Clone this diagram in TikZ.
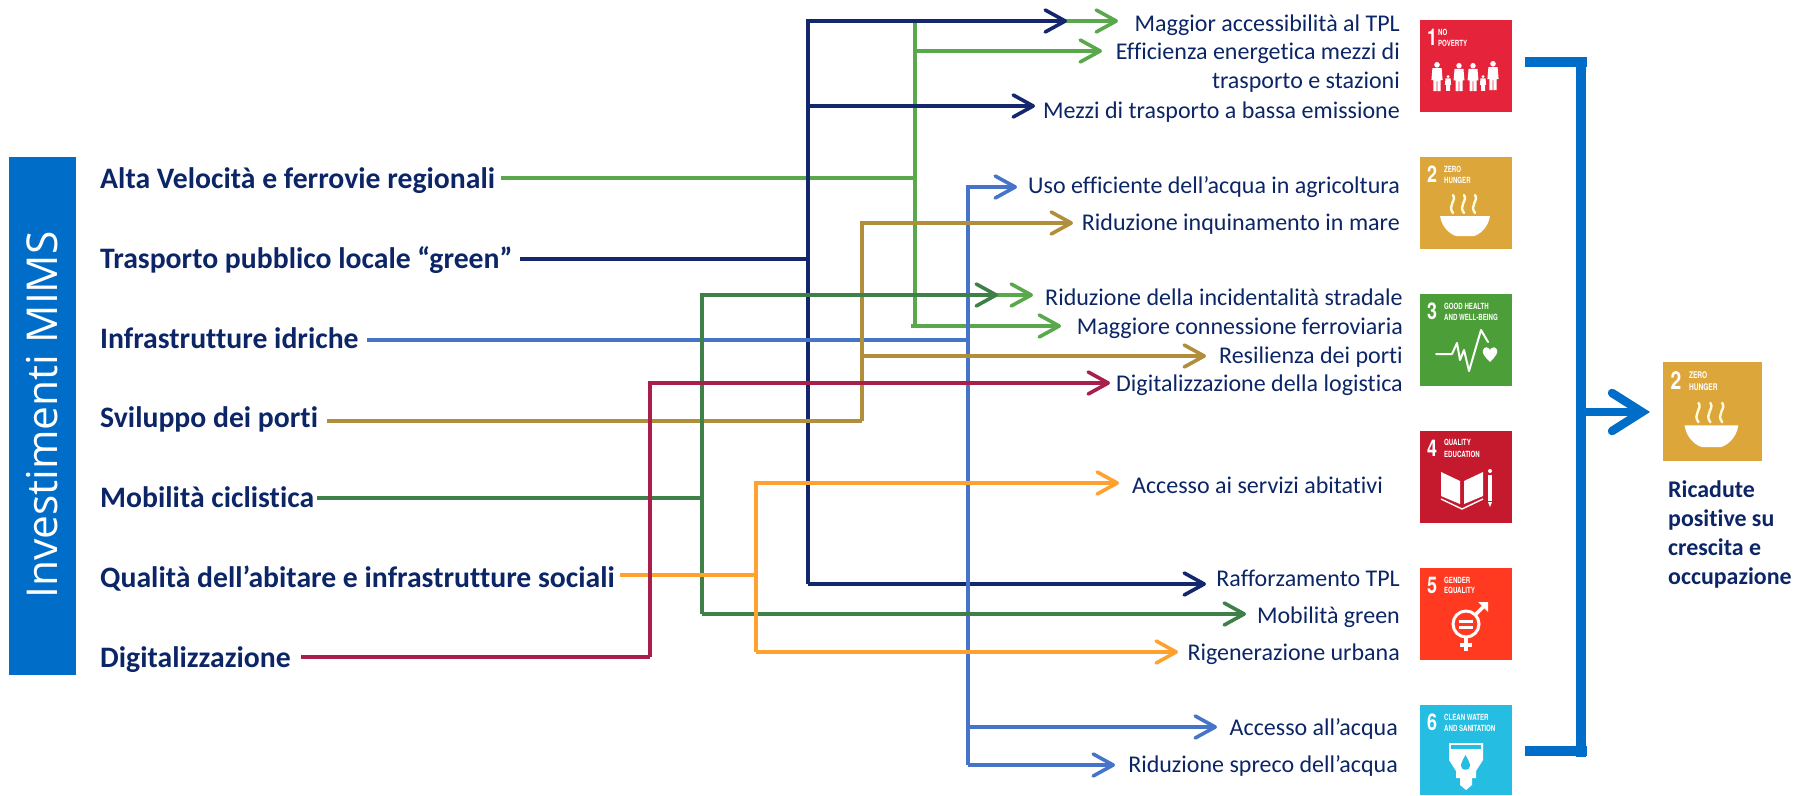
\documentclass[tikz,border=0pt]{standalone}
\usepackage{fontspec}
\setmainfont{Carlito}[Ligatures=CommonOff]
\newfontfamily\barfont{Open Sans}
\newfontfamily\sdgfont{TeX Gyre Heros}
\usetikzlibrary{arrows.meta}
\definecolor{txtnavy}{HTML}{0B2566}
\definecolor{cbar}{HTML}{006EC9}
\definecolor{cgreen}{HTML}{5AA84C}
\definecolor{cnavy}{HTML}{14266C}
\definecolor{cblue}{HTML}{4674C8}
\definecolor{cbrown}{HTML}{B08E3C}
\definecolor{cdgreen}{HTML}{3F7F48}
\definecolor{corange}{HTML}{FFA12E}
\definecolor{cred}{HTML}{A81F4C}
\definecolor{sdgone}{HTML}{E5243B}
\definecolor{sdgtwo}{HTML}{DDA63A}
\definecolor{sdgthree}{HTML}{4C9F38}
\definecolor{sdgfour}{HTML}{C5192D}
\definecolor{sdgfive}{HTML}{FF3A21}
\definecolor{sdgsix}{HTML}{26BDE2}
\tikzset{
  lefttxt/.style={anchor=base west,inner sep=0pt,font=\fontsize{29.7}{32}\selectfont\bfseries,text=txtnavy},
  righttxt/.style={anchor=base east,inner sep=0pt,font=\fontsize{24}{29}\selectfont,text=txtnavy,align=right},
  conn/.style={line width=3.6pt,line join=miter},
  arr/.style={conn,-{Straight Barb[length=20pt,width=22pt,line cap=round,line join=round]}},
  tile/.style={anchor=north west,minimum width=#1,minimum height=#1,inner sep=0pt,outer sep=0pt},
  num/.style={anchor=west,inner sep=0pt,text=white,xscale=.78,font=\sdgfont\fontsize{23}{23}\selectfont\bfseries},
  hd/.style={anchor=west,inner sep=0pt,text=white,xscale=.72,font=\sdgfont\fontsize{8.5}{8.5}\selectfont\bfseries},
  ico/.style={draw=white,line width=2pt,line cap=round,line join=round},
  bigline/.style={draw=cbar,line width=9.5pt}
}
\newcommand{\sdghead}[4]{%
  \node[num] at (7,17) {#1};
  \node[hd] at (#4,12) {#2};
  \node[hd] at (#4,23) {#3};
}
\newcommand{\bowlicon}{%
  \fill[white] (20,59) -- (70,59) .. controls (68,72) and (58,78) .. (54,79) -- (36,79) .. controls (32,78) and (22,72) .. (20,59) -- cycle;
  \foreach \q in {33,44,55}{\draw[draw=white!85!yellow,line width=2.4pt,line cap=round] (\q,56) .. controls (\q-6,48) and (\q+4,44) .. (\q,38);}
}
\newcommand{\persona}[3]{% x, top, scale
  \fill[white] (#1,#2+2.8*#3) circle (2.8*#3);
  \fill[white] (#1-4.6*#3,#2+6*#3) -- (#1+4.6*#3,#2+6*#3) -- (#1+5.6*#3,#2+18*#3) -- (#1+3.6*#3,#2+18*#3) -- (#1+3.6*#3,#2+29*#3) -- (#1+.4*#3,#2+29*#3) -- (#1+.4*#3,#2+19*#3) -- (#1-.4*#3,#2+19*#3) -- (#1-.4*#3,#2+29*#3) -- (#1-3.6*#3,#2+29*#3) -- (#1-3.6*#3,#2+18*#3) -- (#1-5.6*#3,#2+18*#3) -- cycle;
}
\begin{document}
\begin{tikzpicture}[x=1pt,y=-1pt]
\useasboundingbox (0,0) rectangle (1803,795);
% left bar
\node[anchor=north west,fill=cbar,minimum width=67pt,minimum height=518pt,inner sep=0pt] (bar) at (9,157) {};
\node[rotate=90,text=white,inner sep=0pt,font=\barfont\fontsize{42.5}{44}\selectfont] (bartxt) at (42,415) {Investimenti MIMS};
% left labels
\node[lefttxt] (alta) at (100,188.5) {Alta Velocità e ferrovie regionali};
\node[lefttxt] (tpl) at (100,268.5) {Trasporto pubblico locale “green”};
\node[lefttxt] (idr) at (100,348) {Infrastrutture idriche};
\node[lefttxt] (porti) at (100,427.5) {Sviluppo dei porti};
\node[lefttxt] (cicl) at (100,507.5) {Mobilità ciclistica};
\node[lefttxt] (abit) at (100,587) {Qualità dell’abitare e infrastrutture sociali};
\node[lefttxt] (digi) at (100,667) {Digitalizzazione};
% right labels
\node[righttxt] (r1) at (1400,31.5) {Maggior accessibilità al TPL};
\node[righttxt,anchor=north east] (r2) at (1400,43) {Efficienza energetica mezzi di\\trasporto e stazioni};
\node[righttxt] (r3) at (1400,118.5) {Mezzi di trasporto a bassa emissione};
\node[righttxt] (r4) at (1400,193.5) {Uso efficiente dell’acqua in agricoltura};
\node[righttxt] (r5) at (1400,230.5) {Riduzione inquinamento in mare};
\node[righttxt] (r6) at (1403,305.5) {Riduzione della incidentalità stradale};
\node[righttxt] (r7) at (1403,334.5) {Maggiore connessione ferroviaria};
\node[righttxt] (r8) at (1403,363) {Resilienza dei porti};
\node[righttxt] (r9) at (1403,391.5) {Digitalizzazione della logistica};
\node[righttxt] (r10) at (1383,493) {Accesso ai servizi abitativi};
\node[righttxt] (r11) at (1400,586.5) {Rafforzamento TPL};
\node[righttxt] (r12) at (1400,623) {Mobilità green};
\node[righttxt] (r13) at (1400,660.5) {Rigenerazione urbana};
\node[righttxt] (r14) at (1398,735) {Accesso all’acqua};
\node[righttxt] (r15) at (1398,772.5) {Riduzione spreco dell’acqua};
% coordinates of the connector ends
\coordinate (ga) at (501,178);   \coordinate (gj) at (915,178);
\coordinate (gt) at (915,21);    \coordinate (gb) at (915,326);
\coordinate (g1) at (1118,21);   \coordinate (g2) at (1102,51);
\coordinate (g3) at (915,295);   \coordinate (g4) at (1033,295);
\coordinate (g5) at (1061,326);  \coordinate (g0) at (911,326);
\coordinate (na) at (520,259);   \coordinate (nj) at (808,259);
\coordinate (nt) at (808,21);    \coordinate (nb) at (808,584);
\coordinate (n1) at (1067,21);   \coordinate (n2) at (1035,106);
\coordinate (n3) at (1206,584);  \coordinate (n0) at (808,106);
\coordinate (ba) at (367,340);   \coordinate (bj) at (968,340);
\coordinate (bt) at (968,187);   \coordinate (bb) at (968,765);
\coordinate (b1) at (1017,187);  \coordinate (b2) at (1217,727);
\coordinate (b3) at (1115,765);  \coordinate (b0) at (968,727);
\coordinate (oa) at (327,421);   \coordinate (oj) at (862,421);
\coordinate (ot) at (862,223);   \coordinate (om) at (862,356);
\coordinate (o1) at (1073,223);  \coordinate (o2) at (1206,356);
\coordinate (da) at (317,498);   \coordinate (dj) at (702,498);
\coordinate (dt) at (702,295);   \coordinate (db) at (702,614);
\coordinate (d1) at (998,295);   \coordinate (d2) at (1246,614);
\coordinate (ya) at (620,575);   \coordinate (yj) at (756,575);
\coordinate (yt) at (756,483);   \coordinate (yb) at (756,652);
\coordinate (y1) at (1119,483);  \coordinate (y2) at (1178,652);
\coordinate (ra) at (301,657);   \coordinate (rj) at (650,657);
\coordinate (rt) at (650,383);   \coordinate (r1e) at (1110,383);
% connectors, in stacking order
\draw[conn,draw=cgreen] (ga) -- (gj);
\draw[arr,draw=cgreen] (gb) -- (gt) -- (g1);
\draw[arr,draw=cgreen] (gj |- g2) -- (g2);
\draw[arr,draw=cgreen] (g3) -- (g4);
\draw[arr,draw=cgreen] (g0) -- (g5);
\draw[conn,draw=cnavy] (na) -- (nj);
\draw[arr,draw=cnavy] (nb) -- (nt) -- (n1);
\draw[arr,draw=cnavy] (n0) -- (n2);
\draw[arr,draw=cnavy] (nb) -- (n3);
\draw[conn,draw=cblue] (ba) -- (bj);
\draw[arr,draw=cblue] (bb) -- (bt) -- (b1);
\draw[arr,draw=cblue] (b0) -- (b2);
\draw[arr,draw=cblue] (bj |- b3) -- (b3);
\draw[conn,draw=cbrown] (oa) -- (oj);
\draw[arr,draw=cbrown] (oj) -- (ot) -- (o1);
\draw[arr,draw=cbrown] (om) -- (o2);
\draw[conn,draw=cdgreen] (da) -- (dj);
\draw[arr,draw=cdgreen] (db) -- (dt) -- (d1);
\draw[arr,draw=cdgreen] (db) -- (d2);
\draw[conn,draw=corange] (ya) -- (yj);
\draw[arr,draw=corange] (yb) -- (yt) -- (y1);
\draw[arr,draw=corange] (yb) -- (y2);
\draw[conn,draw=cred] (ra) -- (rj);
\draw[arr,draw=cred] (rj) -- (rt) -- (r1e);
% tiles
\node[tile=92pt,fill=sdgone] (t1) at (1420,20) {};
\begin{scope}[shift={(t1.north west)}]
  \sdghead{1}{NO}{POVERTY}{18}
  \persona{17}{42}{1}\persona{28}{55}{.55}\persona{39}{43}{.97}\persona{53}{43}{.97}\persona{63}{55}{.55}\persona{73}{41}{1}
\end{scope}
\node[tile=92pt,fill=sdgtwo] (t2) at (1420,157) {};
\begin{scope}[shift={(t2.north west)}]
  \sdghead{2}{ZERO}{HUNGER}{24}
  \bowlicon
\end{scope}
\node[tile=92pt,fill=sdgthree] (t3) at (1420,294) {};
\begin{scope}[shift={(t3.north west)}]
  \sdghead{3}{GOOD HEALTH}{AND WELL-BEING}{24}
  \draw[ico] (16,60) -- (32,60) -- (37,49) -- (40,66) -- (44,56) -- (49,77) -- (61,36) -- (68,48);
  \fill[white] (70,68) .. controls (64,62) and (62,59) .. (63,56) .. controls (64,52) and (69,53) .. (70,56) .. controls (71,53) and (76,52) .. (77,56) .. controls (78,59) and (76,62) .. (70,68) -- cycle;
\end{scope}
\node[tile=92pt,fill=sdgfour] (t4) at (1420,431) {};
\begin{scope}[shift={(t4.north west)}]
  \sdghead{4}{QUALITY}{EDUCATION}{24}
  \fill[white] (21,41) -- (40,50) -- (40,73) -- (21,65) -- cycle;
  \fill[white] (44,50) -- (63,41) -- (63,65) -- (44,73) -- cycle;
  \draw[white,line width=1.4pt] (21,68) -- (42,78) -- (63,68);
  \draw[white,line width=3.5pt] (70,44) -- (70,70);
  \fill[white] (68,71) -- (72,71) -- (70,76) -- cycle;
  \fill[white] (70,40) circle (2);
\end{scope}
\node[tile=92pt,fill=sdgfive] (t5) at (1420,568) {};
\begin{scope}[shift={(t5.north west)}]
  \sdghead{5}{GENDER}{EQUALITY}{24}
  \draw[white,line width=3pt] (46,56) circle (13);
  \draw[white,line width=3pt] (39,53) -- (53,53) (39,59) -- (53,59);
  \draw[white,line width=3.5pt] (46,69) -- (46,83) (40,77) -- (52,77);
  \draw[white,line width=3.5pt] (55,47) -- (66,36);
  \fill[white] (58,34) -- (68,34) -- (68,44) -- cycle;
\end{scope}
\node[tile=92pt,minimum height=90pt,fill=sdgsix] (t6) at (1420,705) {};
\begin{scope}[shift={(t6.north west)}]
  \sdghead{6}{CLEAN WATER}{AND SANITATION}{24}
  \fill[white] (29,38) -- (63,38) -- (63,55) -- (56,66) -- (56,73) -- (52,73) -- (52,80) -- (46,85) -- (40,80) -- (40,73) -- (36,73) -- (36,66) -- (29,55) -- cycle;
  \fill[sdgsix] (31,40) rectangle (61,44);
  \fill[sdgsix] (45.500,50) .. controls (42,56) and (41,59) .. (41,61) .. controls (41,66) and (50,66) .. (50,61) .. controls (50,59) and (49,56) .. (45.500,50) -- cycle;
\end{scope}
\node[tile=99pt,fill=sdgtwo] (tb) at (1663,362) {};
\begin{scope}[shift={(tb.north west)},scale=1.076]
  \node[num,transform shape] at (7,17) {2};
  \node[hd,transform shape] at (24,12) {ZERO};
  \node[hd,transform shape] at (24,23) {HUNGER};
  \bowlicon
\end{scope}
\node[anchor=north west,inner sep=0pt,font=\fontsize{23.9}{29}\selectfont\bfseries,text=txtnavy,align=left] (ric) at (1668,481) {Ricadute\\positive su\\crescita e\\occupazione};
% bracket
\coordinate (k1) at (1525,62);  \coordinate (k2) at (1587,62);
\coordinate (k3) at (1525,751); \coordinate (k4) at (1587,751);
\coordinate (kt) at (1581,57);  \coordinate (kb) at (1581,757);
\coordinate (kj) at (1581,412); \coordinate (ke) at (1650,412);
\draw[bigline] (k1) -- (k2);
\draw[bigline] (k3) -- (k4);
\draw[bigline] (kt) -- (kb);
\draw[draw=cbar,line width=8.5pt,-{Straight Barb[length=30pt,width=38pt,line cap=round,line join=miter]}] (kj) -- (ke);
\end{tikzpicture}
\end{document}
